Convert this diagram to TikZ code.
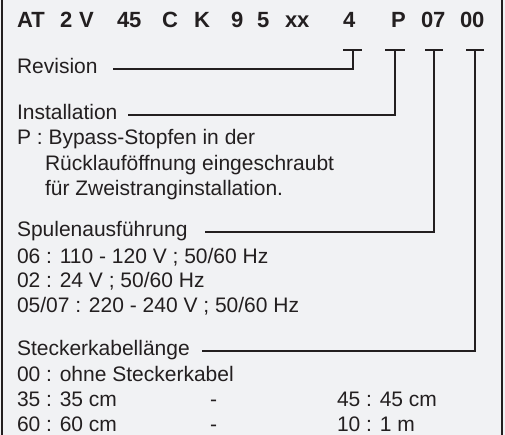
\documentclass[tikz,border=0pt]{standalone}
\usepackage{fontspec}
\setmainfont{Liberation Sans}
\definecolor{bg}{RGB}{241,242,244}
\definecolor{ink}{RGB}{35,31,32}
\begin{document}
\begin{tikzpicture}[x=1pt,y=-1pt,
  every node/.style={inner sep=0pt,outer sep=0pt,anchor=base west,text=ink,font=\fontsize{21}{25}\selectfont},
  head/.style={font=\fontsize{22}{26}\selectfont\bfseries},
  conn/.style={draw=ink,line width=2.4pt},
  tbar/.style={draw=ink,line width=2.4pt}]
\useasboundingbox (0,0) rectangle (505,435);
\fill[bg] (0,0) rectangle (505,435);
\draw[ink,line width=2.2pt] (2,0) -- (2,435);
\draw[ink,line width=2.2pt] (502,0) -- (502,435);
% header
\node[head] (hAT) at (17,28) {AT};
\node[head] (h2) at (60,28) {2};
\node[head] (hV) at (79,28) {V};
\node[head] (h45) at (117,28) {45};
\node[head] (hC) at (162,28) {C};
\node[head] (hK) at (194,28) {K};
\node[head] (h9) at (231,28) {9};
\node[head] (h5) at (257,28) {5};
\node[head] (hxx) at (285,28) {xx};
\node[head] (h4) at (343,28) {4};
\node[head] (hP) at (391,28) {P};
\node[head] (h07) at (421,28) {07};
\node[head] (h00) at (460,28) {00};
% labels
\node (rev) at (17,74) {Revision};
\node (inst) at (17,120) {Installation};
\node (instP) at (17,145) {P : Bypass-Stopfen in der};
\node (instP2) at (45,171) {Rücklauföffnung eingeschraubt};
\node (instP3) at (45,196) {für Zweistranginstallation.};
\node (spul) at (17,237) {Spulenausführung};
\node (sp1) at (17,263) {06 : 110 - 120 V ; 50/60 Hz};
\node (sp2) at (17,287) {02 : 24 V ; 50/60 Hz};
\node (sp3) at (17,312) {05/07 : 220 - 240 V ; 50/60 Hz};
\node (stk) at (17,355) {Steckerkabellänge};
\node (st1) at (17,381) {00 : ohne Steckerkabel};
\node (st2a) at (17,406) {35 : 35 cm};
\node (st2b) at (210,406) {-};
\node (st2c) at (337,406) {45 : 45 cm};
\node (st3a) at (17,431) {60 : 60 cm};
\node (st3b) at (210,431) {-};
\node (st3c) at (337,431) {10 : 1 m};
% connector coordinates
\coordinate (t4) at (353,50);
\coordinate (tP) at (395,50);
\coordinate (t07) at (434,50);
\coordinate (t00) at (475,50);
\coordinate (e4) at (113,69);
\coordinate (eP) at (128,115);
\coordinate (e07) at (205,232);
\coordinate (e00) at (202,351);
% T bars
\draw[tbar] ([xshift=-10pt]t4) -- ([xshift=9pt]t4);
\draw[tbar] ([xshift=-10pt]tP) -- ([xshift=10pt]tP);
\draw[tbar] ([xshift=-9pt]t07) -- ([xshift=9pt]t07);
\draw[tbar] ([xshift=-9pt]t00) -- ([xshift=9pt]t00);
% connectors
\draw[conn,line join=miter] (t4) -- (t4 |- e4) -- (e4);
\draw[conn,line join=miter] (tP) -- (tP |- eP) -- (eP);
\draw[conn,line join=miter] (t07) -- (t07 |- e07) -- (e07);
\draw[conn,line join=miter] (t00) -- (t00 |- e00) -- (e00);
\end{tikzpicture}
\end{document}
